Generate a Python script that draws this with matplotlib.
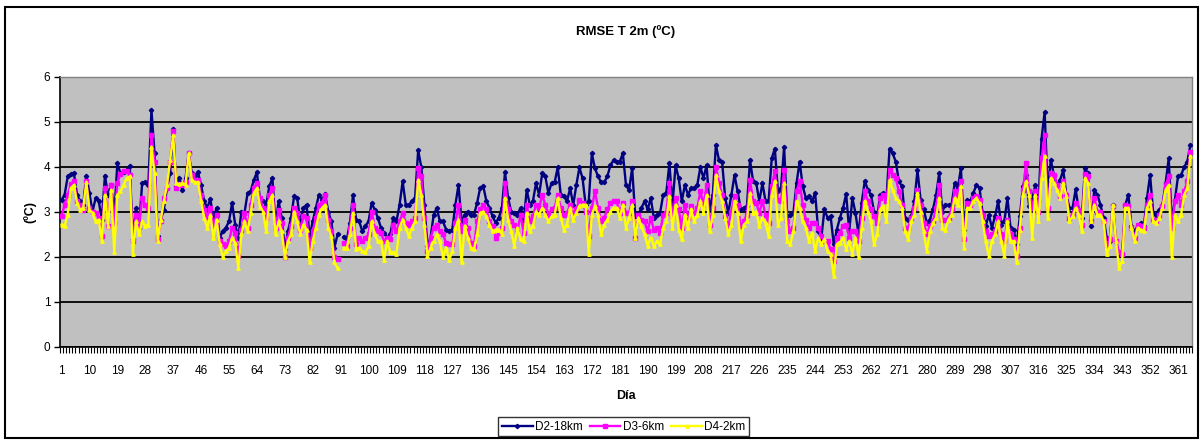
import numpy as np
import matplotlib
matplotlib.use('Agg')
import matplotlib.pyplot as plt
from matplotlib.patches import Rectangle

plt.rcParams['font.family'] = ['Liberation Sans', 'DejaVu Sans']

# Datos (RMSE T 2m, por dia)
nan = np.nan

d2_18km = [
    3.27, 3.38, 3.79, 3.84, 3.86, 3.38, 3.24, 3.16, 3.81, 3.42, 3.01, 3.31, 3.24, 2.83, 3.81,
    3.38, 3.60, 2.90, 4.08, 3.86, 3.88, 3.93, 4.03, 2.39, 3.09, 2.65, 3.64, 3.66, 3.60, 5.26,
    4.30, 2.46, 2.83, 3.05, 3.53, 3.86, 4.85, 3.57, 3.76, 3.49, 3.76, 4.30, 3.86, 3.81, 3.88,
    3.60, 3.24, 3.09, 3.29, 2.83, 3.09, 2.43, 2.57, 2.65, 2.79, 3.20, 2.72, 2.43, 3.01, 2.98,
    3.42, 3.46, 3.71, 3.88, 3.27, 3.25, 3.16, 3.57, 3.75, 2.69, 3.24, 2.87, 2.17, 2.57, 2.87,
    3.35, 3.31, 2.76, 3.09, 3.16, 2.46, 2.79, 3.09, 3.38, 3.27, 3.40, 3.01, 2.79, 2.21, 2.50,
    nan, 2.45, 2.39, 2.76, 3.38, 2.83, 2.79, 2.57, 2.69, 2.79, 3.20, 3.05, 2.87, 2.65, 2.54,
    2.43, 2.50, 2.87, 2.79, 3.16, 3.68, 3.16, 3.16, 3.24, 3.31, 4.37, 4.00, 3.16, 2.24, 2.43,
    2.94, 3.09, 2.79, 2.79, 2.61, 2.57, 2.61, 3.16, 3.60, 2.79, 2.94, 3.01, 2.94, 2.94, 3.20,
    3.54, 3.57, 3.24, 3.09, 2.90, 2.76, 2.87, 3.09, 3.88, 3.31, 3.01, 2.98, 2.94, 3.09, 2.79,
    3.49, 3.16, 3.24, 3.64, 3.38, 3.86, 3.79, 3.42, 3.64, 3.66, 3.99, 3.38, 3.35, 3.24, 3.53,
    3.16, 3.60, 3.99, 3.75, 3.16, 3.24, 4.30, 3.97, 3.79, 3.66, 3.66, 3.79, 4.04, 4.15, 4.12,
    4.12, 4.30, 3.60, 3.49, 3.97, 2.90, 2.94, 3.09, 3.24, 3.06, 3.31, 2.87, 2.94, 2.98, 3.38,
    3.42, 4.08, 3.16, 4.04, 3.75, 3.24, 3.60, 3.38, 3.53, 3.53, 3.60, 4.00, 3.75, 4.04, 3.06,
    3.38, 4.49, 4.15, 4.12, 3.31, 2.98, 3.38, 3.82, 3.46, 3.06, 3.09, 3.13, 4.15, 3.68, 3.64,
    3.24, 3.64, 3.24, 3.24, 4.19, 4.41, 3.46, 3.53, 4.45, 2.90, 2.94, 2.98, 3.64, 4.12, 3.57,
    3.31, 3.35, 3.24, 3.42, 2.57, 2.43, 3.06, 2.87, 2.90, 2.28, 2.61, 2.87, 3.09, 3.40, 2.57,
    3.31, 2.98, 2.50, 3.20, 3.69, 3.49, 3.38, 3.01, 2.90, 3.38, 3.42, 3.31, 4.41, 4.30, 4.12,
    3.68, 3.57, 2.87, 2.83, 2.90, 3.24, 3.93, 3.27, 3.06, 2.76, 2.83, 3.06, 3.38, 3.86, 3.01,
    3.16, 3.16, 3.16, 3.64, 3.53, 3.97, 2.61, 3.27, 3.24, 3.42, 3.60, 3.53, 2.98, 2.69, 2.94,
    2.65, 2.90, 3.24, 2.72, 2.79, 3.31, 2.65, 2.61, 2.28, 2.90, 3.57, 3.82, 3.13, 3.31, 3.60,
    3.24, 4.63, 5.22, 3.50, 4.15, 3.82, 3.60, 3.71, 3.93, 3.38, 3.09, 3.09, 3.50, 3.05, 2.87,
    3.97, 3.86, 2.69, 3.49, 3.38, 3.16, 2.87, 2.43, 2.35, 3.16, 2.35, 2.06, 2.06, 3.16, 3.38,
    2.69, 2.57, 2.69, 2.76, 2.69, 3.31, 3.82, 2.98, 2.94, 3.05, 3.16, 3.64, 4.19, 2.79, 3.27,
    3.79, 3.82, 4.00, 4.12, 4.49,
]

d3_6km = [
    2.90, 3.16, 3.38, 3.62, 3.69, 3.24, 3.16, 3.05, 3.68, 3.09, 3.01, 2.98, 2.87, 2.46, 3.53,
    2.69, 3.60, 2.76, 3.64, 3.84, 3.90, 3.91, 3.82, 2.35, 2.94, 2.69, 3.31, 3.16, 3.09, 4.72,
    4.12, 2.39, 2.79, 3.31, 3.53, 4.12, 4.80, 3.53, 3.62, 3.60, 3.66, 4.30, 3.82, 3.71, 3.71,
    3.38, 3.05, 2.88, 3.09, 2.69, 2.94, 2.35, 2.28, 2.25, 2.35, 2.65, 2.54, 2.02, 2.61, 2.98,
    2.65, 3.16, 3.53, 3.64, 3.31, 3.09, 2.87, 3.38, 3.53, 2.65, 3.05, 2.76, 1.99, 2.43, 2.69,
    3.09, 2.98, 2.61, 2.90, 2.87, 2.21, 2.57, 2.87, 3.16, 3.20, 3.38, 2.83, 2.57, 1.99, 1.95,
    nan, 2.30, 2.25, 2.65, 3.16, 2.28, 2.43, 2.35, 2.43, 2.50, 3.01, 2.65, 2.57, 2.54, 2.35,
    2.43, 2.39, 2.72, 2.57, 2.79, 2.98, 2.76, 2.72, 2.79, 2.87, 3.97, 3.79, 2.87, 2.13, 2.43,
    2.65, 2.72, 2.57, 2.50, 2.32, 2.28, 2.28, 2.76, 3.16, 2.57, 2.83, 2.65, 2.32, 2.25, 2.79,
    3.06, 3.16, 3.06, 2.79, 2.69, 2.43, 2.54, 2.65, 3.64, 3.06, 2.79, 2.72, 2.57, 2.94, 2.54,
    3.16, 2.79, 2.90, 3.16, 3.09, 3.38, 3.16, 2.94, 3.06, 3.09, 3.38, 3.09, 2.94, 2.98, 3.16,
    2.98, 3.06, 3.27, 3.20, 3.01, 2.46, 3.09, 3.46, 3.09, 2.79, 2.87, 3.06, 3.20, 3.24, 3.24,
    2.98, 3.20, 2.98, 2.98, 3.24, 2.43, 2.94, 2.83, 2.79, 2.57, 2.87, 2.61, 2.65, 2.54, 2.94,
    2.98, 3.64, 2.90, 3.31, 3.06, 2.65, 3.16, 2.87, 3.13, 2.98, 3.09, 3.46, 3.16, 3.60, 2.72,
    3.09, 4.01, 3.64, 3.38, 2.90, 2.69, 3.01, 3.35, 3.16, 2.69, 2.79, 2.94, 3.71, 3.24, 3.20,
    2.98, 3.24, 2.94, 2.76, 3.57, 3.90, 3.27, 3.24, 3.93, 2.79, 2.57, 2.65, 3.46, 3.68, 3.16,
    2.83, 2.65, 2.76, 2.76, 2.65, 2.46, 2.35, 2.35, 2.17, 1.91, 2.43, 2.54, 2.69, 2.72, 2.43,
    2.57, 2.57, 2.35, 2.87, 3.46, 3.24, 3.06, 2.90, 2.76, 3.31, 3.38, 3.24, 3.93, 3.82, 3.75,
    3.46, 3.16, 2.65, 2.65, 2.87, 3.09, 3.49, 3.16, 2.76, 2.50, 2.69, 2.79, 3.09, 3.60, 2.83,
    2.83, 2.87, 3.06, 3.46, 3.38, 3.68, 2.39, 3.20, 3.16, 3.31, 3.35, 3.27, 2.94, 2.57, 2.46,
    2.50, 2.57, 2.87, 2.50, 2.35, 2.83, 2.50, 2.39, 2.02, 2.65, 3.49, 4.08, 3.46, 3.09, 3.46,
    3.01, 4.19, 4.71, 3.09, 3.86, 3.82, 3.60, 3.35, 3.68, 3.38, 2.87, 2.94, 3.20, 3.05, 2.72,
    3.84, 3.79, 2.79, 3.31, 3.01, 3.01, 2.79, 2.24, 2.39, 3.13, 2.35, 2.10, 2.06, 3.16, 3.13,
    2.65, 2.43, 2.72, 2.69, 2.65, 3.16, 3.38, 2.83, 2.79, 2.94, 3.13, 3.60, 3.79, 2.65, 3.24,
    3.38, 3.16, 3.46, 3.68, 4.34,
]

d4_2km = [
    2.72, 2.69, 2.94, 3.53, 3.60, 3.20, 3.05, 3.09, 3.66, 3.05, 2.98, 2.79, 2.83, 2.35, 3.38,
    2.69, 3.49, 2.10, 3.38, 3.46, 3.60, 3.75, 3.79, 2.06, 2.79, 2.50, 2.79, 2.69, 2.72, 4.45,
    3.86, 2.35, 2.83, 3.24, 3.60, 4.16, 4.70, 3.64, 3.62, 3.64, 3.60, 4.30, 3.71, 3.66, 3.66,
    3.24, 2.87, 2.65, 2.94, 2.43, 2.83, 2.28, 1.99, 2.13, 2.21, 2.43, 2.32, 1.76, 2.50, 2.79,
    2.57, 2.98, 3.42, 3.53, 3.12, 3.01, 2.57, 3.24, 3.38, 2.50, 2.79, 2.57, 1.99, 2.35, 2.50,
    3.01, 2.79, 2.50, 2.72, 2.61, 1.88, 2.35, 2.65, 2.94, 3.09, 3.16, 2.65, 2.46, 1.88, 1.75,
    nan, 2.20, 2.21, 2.50, 2.98, 2.17, 2.21, 2.13, 2.10, 2.25, 2.79, 2.50, 2.35, 2.35, 1.93,
    2.35, 2.10, 2.10, 2.07, 2.65, 2.83, 2.65, 2.46, 2.65, 2.79, 3.71, 3.38, 2.72, 2.02, 2.21,
    2.35, 2.50, 2.35, 1.99, 2.21, 1.93, 2.13, 2.65, 2.83, 1.88, 2.69, 2.43, 2.21, 2.17, 2.50,
    2.98, 3.01, 2.90, 2.72, 2.57, 2.61, 2.61, 2.50, 3.31, 2.83, 2.57, 2.25, 2.65, 2.39, 2.35,
    2.98, 2.57, 2.69, 3.01, 2.94, 3.09, 2.94, 2.79, 2.90, 2.94, 3.31, 2.87, 2.61, 2.72, 3.09,
    2.83, 2.98, 3.13, 3.16, 3.16, 2.06, 2.94, 3.13, 2.94, 2.50, 2.72, 2.83, 3.01, 3.09, 3.09,
    2.87, 3.16, 2.65, 2.87, 3.16, 2.43, 2.87, 2.69, 2.50, 2.25, 2.43, 2.25, 2.35, 2.28, 2.65,
    2.79, 3.35, 2.65, 3.16, 2.61, 2.39, 2.94, 2.65, 3.06, 2.79, 2.94, 3.24, 2.98, 3.38, 2.57,
    2.94, 3.82, 3.46, 3.24, 2.87, 2.50, 2.72, 3.24, 2.98, 2.35, 2.72, 2.79, 3.42, 2.98, 3.01,
    2.69, 2.87, 2.76, 2.46, 3.38, 3.68, 2.72, 2.87, 3.64, 2.35, 2.28, 2.57, 3.24, 3.09, 2.79,
    2.65, 2.35, 2.54, 2.13, 2.43, 2.28, 2.39, 2.13, 2.06, 1.58, 2.28, 2.32, 2.43, 2.17, 2.35,
    2.06, 2.43, 1.99, 2.65, 3.24, 3.01, 2.79, 2.28, 2.50, 3.06, 3.13, 2.79, 3.71, 3.49, 3.31,
    3.24, 3.09, 2.57, 2.39, 2.79, 2.94, 3.42, 3.01, 2.57, 2.13, 2.57, 2.76, 2.87, 3.31, 2.65,
    2.61, 2.83, 2.94, 3.31, 3.16, 3.57, 2.21, 3.09, 3.09, 3.24, 3.31, 3.20, 2.79, 2.35, 2.02,
    2.35, 2.50, 2.79, 2.35, 2.02, 2.79, 2.35, 2.35, 1.88, 2.61, 3.38, 3.68, 3.38, 2.43, 3.38,
    2.79, 3.75, 4.24, 2.87, 3.75, 3.64, 3.49, 3.31, 3.64, 3.35, 2.79, 2.90, 3.09, 2.94, 2.57,
    3.75, 3.64, 2.79, 3.16, 2.94, 2.94, 2.79, 2.06, 2.24, 3.16, 2.35, 1.76, 1.91, 3.09, 3.09,
    2.65, 2.35, 2.65, 2.61, 2.57, 3.09, 3.24, 2.79, 2.76, 2.87, 3.09, 3.49, 3.60, 1.99, 2.94,
    2.79, 2.94, 3.38, 3.53, 4.24,
]

dias = np.arange(1, len(d2_18km) + 1)
etiquetas_x = np.arange(1, 366, 9)

fig = plt.figure(figsize=(12.04, 4.41), dpi=100)
ax = fig.add_axes([0.0498, 0.2132, 0.9402, 0.6122])

ax.set_facecolor('#C0C0C0')
ax.plot(dias, d2_18km, color='#000080', lw=1.7, marker='D', ms=2.2, label='D2-18km', zorder=3)
ax.plot(dias, d3_6km, color='#FF00FF', lw=1.7, marker='s', ms=2.4, label='D3-6km', zorder=4)
ax.plot(dias, d4_2km, color='#FFFF00', lw=1.7, marker='^', ms=2.4, label='D4-2km', zorder=5)

ax.set_xlim(0.5, 365.5)
ax.set_ylim(0, 6)
ax.set_yticks(range(0, 7))
ax.yaxis.grid(True, color='black', lw=1.3)
ax.set_axisbelow(True)

ax.set_xticks(etiquetas_x)
ax.set_xticklabels([str(v) for v in etiquetas_x])
ax.set_xticks(np.arange(0.5, 366, 1), minor=True)
ax.tick_params(axis='x', which='major', length=0, labelsize=8.5, pad=13)
ax.tick_params(axis='x', which='minor', length=4, width=0.8, direction='out')
ax.tick_params(axis='y', length=4, width=1, labelsize=8.5, pad=3)

for s in ['left', 'bottom']:
    ax.spines[s].set_color('black')
    ax.spines[s].set_linewidth(1.2)
for s in ['top', 'right']:
    ax.spines[s].set_color('#808080')
    ax.spines[s].set_linewidth(1.0)

ax.set_title('RMSE T 2m (ºC)', fontsize=9.5, fontweight='bold', pad=30)
ax.set_xlabel('Día', fontsize=9, fontweight='bold', labelpad=9)
ax.set_ylabel('(ºC)', fontsize=9, fontweight='bold', labelpad=5)

leg = fig.legend(loc='center', bbox_to_anchor=(0.518, 0.032), ncol=3, fontsize=8.5,
                 frameon=True, fancybox=False, edgecolor='black', handlelength=2.6,
                 handletextpad=0.2, columnspacing=0.6, borderpad=0.3)
leg.get_frame().set_linewidth(1.0)

# borde exterior del grafico
fig.patches.append(Rectangle((0.0042, 0.007), 0.9909, 0.977, transform=fig.transFigure,
                             fill=False, edgecolor='black', lw=1.5))

fig.savefig('out.png', dpi=100)
